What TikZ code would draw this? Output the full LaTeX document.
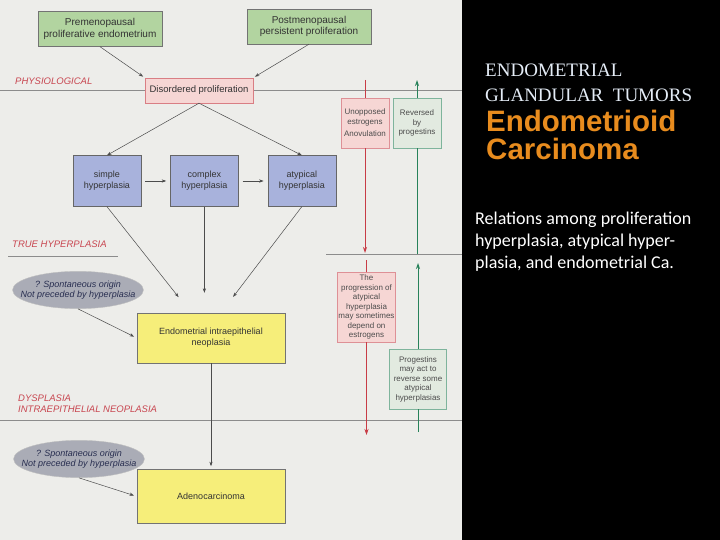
\documentclass[tikz,border=0pt]{standalone}
\usepackage{fontspec}
\setmainfont{Liberation Sans}
\newfontfamily\serifhead{Liberation Serif}
\newfontfamily\calibrihead{Carlito}
\usetikzlibrary{positioning, arrows.meta, shapes.geometric}
\definecolor{paper}{RGB}{237,237,234}
\definecolor{boxgreen}{RGB}{178,212,160}
\definecolor{boxpink}{RGB}{246,214,212}
\definecolor{boxblue}{RGB}{168,178,220}
\definecolor{boxyellow}{RGB}{246,238,122}
\definecolor{notegreen}{RGB}{226,234,224}
\definecolor{origingrey}{RGB}{170,172,182}
\definecolor{originblue}{RGB}{40,46,80}
\definecolor{zonered}{RGB}{200,70,80}
\definecolor{arrowred}{RGB}{200,60,70}
\definecolor{arrowgreen}{RGB}{40,130,90}
\definecolor{titleorange}{RGB}{232,140,30}
\definecolor{titlewhite}{RGB}{228,236,246}

\begin{document}
\begin{tikzpicture}[x=1pt, y=-1pt, >={Stealth[length=4.5pt, width=3.2pt]},
    flow/.style={draw=black!55, align=center, inner sep=1pt, text=black!80},
    greenbox/.style={flow, fill=boxgreen, minimum height=35pt, font=\fontsize{10}{11.5}\selectfont},
    pinkbox/.style={flow, fill=boxpink, draw=zonered!70, font=\fontsize{9.5}{11}\selectfont},
    bluebox/.style={flow, fill=boxblue, draw=black!60, minimum width=68pt, minimum height=51pt, font=\fontsize{9}{11}\selectfont},
    yellowbox/.style={flow, fill=boxyellow, minimum width=148pt, font=\fontsize{9}{11}\selectfont},
    notebox/.style={flow, minimum width=48pt, font=\fontsize{8}{9.5}\selectfont, text=black!70},
    origin/.style={ellipse, fill=origingrey, draw=black!25, inner xsep=-11pt, inner ysep=4pt, align=center,
        text=originblue, font=\itshape\fontsize{9}{10}\selectfont},
    zone/.style={anchor=west, inner sep=0pt, align=left, text=zonered, font=\itshape\fontsize{9.5}{11}\selectfont},
    rule/.style={draw=black!45, line width=0.6pt},
    link/.style={->, draw=black!70, line width=0.5pt},
    redflow/.style={draw=arrowred, line width=0.9pt, >={Stealth[length=6pt, width=4pt]}},
    greenflow/.style={draw=arrowgreen, line width=0.9pt, >={Stealth[length=6pt, width=4pt]}}]
  % Page
  \fill[paper] (0,0) rectangle (462,540);
  \fill[black] (462,0) rectangle (720,540);
  \useasboundingbox (0,0) rectangle (720,540);
  % Zone rules
  \draw[rule] (0,90) -- (462,90);
  \draw[rule] (8,256) -- (118,256);
  \draw[rule] (326,254) -- (462,254);
  \draw[rule] (0,420) -- (462,420);
  % Zone labels
  \node[zone] (physio) at (15,81) {PHYSIOLOGICAL};
  \node[zone] (truehyp) at (12,244) {TRUE HYPERPLASIA};
  \node[zone] (dysp) at (18,403.5) {DYSPLASIA\\INTRAEPITHELIAL NEOPLASIA};
  % Proliferation
  \node[greenbox, minimum width=124pt] (pre) at (100,29) {Premenopausal\\proliferative endometrium};
  \node[greenbox, minimum width=124pt] (post) at (309,26.5) {Postmenopausal\\persistent proliferation};
  \node[pinkbox, minimum width=108pt, minimum height=25pt] (dis) at (199,90.5) {Disordered proliferation};
  % Hyperplasia
  \node[bluebox] (simple) at (107,181) {simple\\hyperplasia};
  \node[bluebox, right=29pt of simple] (complex) {complex\\hyperplasia};
  \node[bluebox, right=29pt of complex] (atypical) {atypical\\hyperplasia};
  % Neoplasia
  \node[yellowbox, minimum height=50pt] (ein) at (211,338) {Endometrial intraepithelial\\neoplasia};
  \node[yellowbox, minimum height=54pt, below=106pt of ein] (adeno) {Adenocarcinoma};
  \node[origin] (orig1) at (78,290) {? Spontaneous origin\\Not preceded by hyperplasia};
  \node[origin] (orig2) at (79,459) {? Spontaneous origin\\Not preceded by hyperplasia};
  % Hormone notes
  \node[notebox, fill=boxpink, draw=zonered!60, minimum height=50pt] (unopp) at (365,123) {Unopposed\\estrogens\\[3pt]Anovulation};
  \node[notebox, fill=notegreen, draw=arrowgreen!60, minimum height=50pt] (reversed) at (417,123) {Reversed\\by\\progestins};
  \node[notebox, fill=boxpink, draw=zonered!60, minimum width=58pt, minimum height=70pt] (progress) at (366.5,307)
      {The\\progression of\\atypical\\hyperplasia\\may sometimes\\depend on\\estrogens};
  \node[notebox, fill=notegreen, draw=arrowgreen!60, minimum width=57pt, minimum height=60pt] (revert) at (418,379)
      {Progestins\\may act to\\reverse some\\atypical\\hyperplasias};
  \coordinate (redtop) at (365,80);
  \coordinate (redend) at (365,253);
  \coordinate (redtop2) at (366.5,260);
  \coordinate (redend2) at (366.5,435);
  \coordinate (greenend) at (417,80);
  \coordinate (greenbot) at (417,254);
  \coordinate (greenend2) at (418,263);
  \coordinate (greenbot2) at (418,432);
  % Links
  \draw[link, shorten >=2pt] (pre.south) -- (dis.north west);
  \draw[link, shorten >=2pt] (post.south) -- (dis.north east);
  \draw[link] (dis.south) -- (simple.north);
  \draw[link] (dis.south) -- (atypical.north);
  \draw[link, shorten <=4pt, shorten >=4pt] (simple) -- (complex);
  \draw[link, shorten <=4pt, shorten >=4pt] (complex) -- (atypical);
  \draw[link, shorten >=20pt] (simple.south) -- ([xshift=-20pt]ein.north);
  \draw[link, shorten >=20pt] (complex.south) -- (complex.south |- ein.north);
  \draw[link, shorten >=20pt] (atypical.south) -- ([xshift=10pt]ein.north);
  \draw[link, shorten >=3pt] (orig1.south) -- (ein.west);
  \draw[link, shorten >=3pt] (orig2.south) -- (adeno.west);
  \draw[link, shorten >=3pt] (ein.south) -- (adeno.north);
  \draw[redflow] (redtop) -- (unopp);
  \draw[redflow, ->] (unopp) -- (redend);
  \draw[redflow] (redtop2) -- (progress);
  \draw[redflow, ->] (progress) -- (redend2);
  \draw[greenflow] (greenbot) -- (reversed);
  \draw[greenflow, ->] (reversed) -- (greenend);
  \draw[greenflow] (greenbot2) -- (revert);
  \draw[greenflow, ->] (revert) -- (greenend2);
  % Title
  \node[anchor=base west, inner sep=0pt, font=\serifhead\fontsize{19}{23}\selectfont, text=titlewhite] (head1) at (485,77) {ENDOMETRIAL};
  \node[anchor=base west, inner sep=0pt, font=\serifhead\fontsize{19}{23}\selectfont, text=titlewhite] (head2) at (485,102) {GLANDULAR\ \ TUMORS};
  \node[anchor=base west, inner sep=0pt, font=\bfseries\fontsize{29.5}{33}\selectfont, text=titleorange] (title1) at (486,132) {Endometrioid};
  \node[anchor=base west, inner sep=0pt, font=\bfseries\fontsize{29.5}{33}\selectfont, text=titleorange] (title2) at (486,160) {Carcinoma};
  \node[anchor=base west, inner sep=0pt, font=\calibrihead\fontsize{18}{22}\selectfont, text=white] (cap1) at (475,225) {Relations among proliferation};
  \node[anchor=base west, inner sep=0pt, font=\calibrihead\fontsize{18}{22}\selectfont, text=white] (cap2) at (475,247) {hyperplasia, atypical hyper-};
  \node[anchor=base west, inner sep=0pt, font=\calibrihead\fontsize{18}{22}\selectfont, text=white] (cap3) at (475,268) {plasia, and endometrial Ca.};
\end{tikzpicture}
\end{document}
